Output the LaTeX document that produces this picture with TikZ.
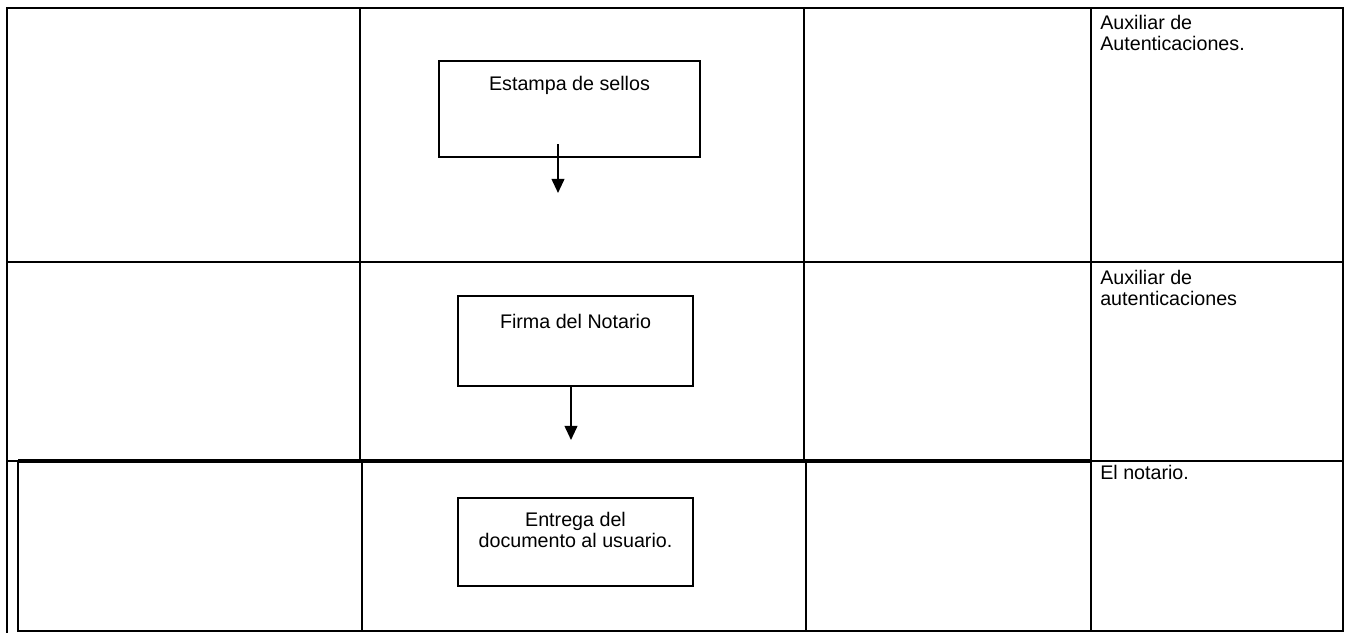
\documentclass[tikz,border=0pt]{standalone}
\usepackage{fontspec}
\setmainfont{Liberation Sans}
\usepackage{tikz}
\usetikzlibrary{positioning,arrows.meta,calc}

\begin{document}
\begin{tikzpicture}[x=0.025cm,y=-0.025cm,
  linea/.style={line width=1.4pt},
  caja/.style={draw, line width=1.4pt, inner sep=0pt},
  texto/.style={font=\fontsize{14}{14.8}\selectfont, inner sep=0pt},
  flecha/.style={line width=1.4pt, -{Triangle[width=9pt,length=10pt]}}]
\useasboundingbox (0,0) rectangle (1352,633);

% tabla de arriba
\draw[linea] (7,8) rectangle (1343,461);
\draw[linea] (7,262) -- (1343,262);
\foreach \x in {360,804,1091}
  \draw[linea] (\x,8) -- (\x,461);

% fila de abajo, algo corrida
\draw[linea] (18,461) rectangle (1343,631);
\draw[line width=2.6pt] (18,461) -- (1091,461);
\foreach \x in {362,806,1091}
  \draw[linea] (\x,461) -- (\x,631);
\draw[linea] (7,461) -- (7,633);

% pasos
\node[caja, minimum width=6.525cm, minimum height=2.4cm] (sellos) at (569.5,109) {};
\node[texto, anchor=base] (sellostxt) at (569.5,90) {Estampa de sellos};

\node[caja, minimum width=5.875cm, minimum height=2.25cm] (notario) at (575.5,341) {};
\node[texto, anchor=base] (notariotxt) at (575.5,328) {Firma del Notario};

\node[caja, minimum width=5.875cm, minimum height=2.2cm] (entrega) at (575.5,542) {};
\node[texto, anchor=base, align=center] (entregatxt) at (575.5,547) {Entrega del\\documento al usuario.};

% flechas
\coordinate (fin1) at (558,193);
\draw[flecha] ($(sellos.south)+(-11.5,-14)$) -- (fin1);
\coordinate (fin2) at (571,440);
\draw[flecha] ($(notario.south)+(-4.5,0)$) -- (fin2);

% responsables
\node[texto, anchor=base west, align=left] (resp1) at (1100,50) {Auxiliar de\\Autenticaciones.};
\node[texto, anchor=base west, align=left] (resp2) at (1100,305) {Auxiliar de\\autenticaciones};
\node[texto, anchor=base west] (resp3) at (1100,479) {El notario.};
\end{tikzpicture}
\end{document}
